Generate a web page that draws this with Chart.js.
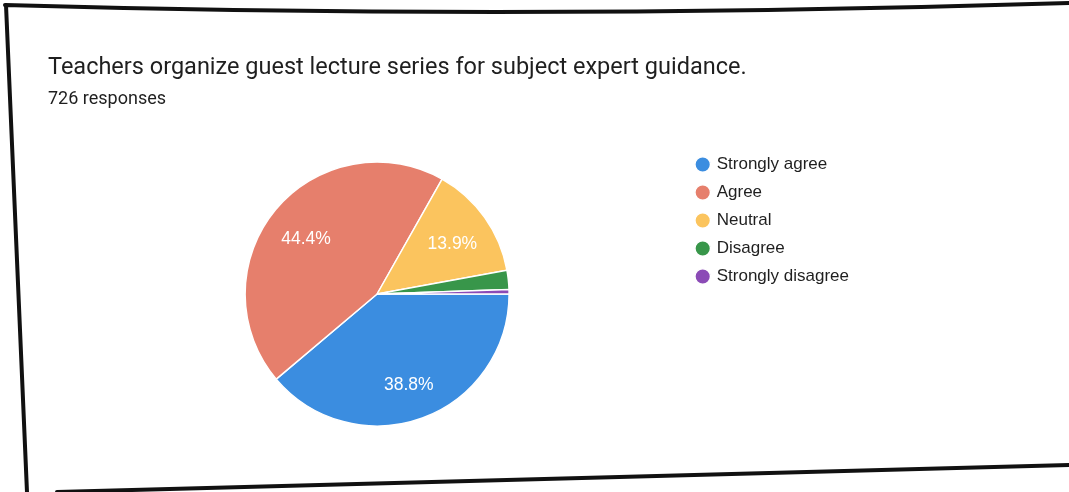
<!DOCTYPE html>
<html>
<head>
<meta charset="utf-8">
<script src="https://cdn.jsdelivr.net/npm/chart.js@4"></script>
<style>
  body { margin: 0; background: #fff; }
  #wrap { position: relative; width: 1069px; height: 492px; overflow: hidden; }
  #wrap canvas { position: absolute; left: 0; top: 0; }
  .question { position: absolute; left: 48px; top: 52px; font: 23.5px Roboto, sans-serif; color: #1f1f1f; white-space: nowrap; }
  .count { position: absolute; left: 48px; top: 87px; font: 18px Roboto, sans-serif; color: #1f1f1f; white-space: nowrap; }
</style>
</head>
<body>
<div id="wrap">
  <canvas id="pie-chart" width="1069" height="492"></canvas>
  <div class="question" id="question"></div>
  <div class="count" id="count"></div>
</div>
<script>
const question = 'Teachers organize guest lecture series for subject expert guidance.';
const answers = ['Strongly agree', 'Agree', 'Neutral', 'Disagree', 'Strongly disagree'];
const counts = [282, 322, 101, 17, 4];
const sliceColors = ['#3b8de0', '#e67f6c', '#fbc45e', '#38964a', '#8b4bb6'];

const total = counts.reduce((a, b) => a + b, 0);
document.getElementById('question').textContent = question;
document.getElementById('count').textContent = total + ' responses';

// black outline of the card
const cardFrame = {
  id: 'cardFrame',
  beforeDraw(chart) {
    const ctx = chart.ctx;
    ctx.save();
    ctx.strokeStyle = '#111';
    ctx.lineWidth = 4;
    ctx.lineCap = 'round';
    ctx.beginPath();
    ctx.moveTo(5, 5);
    ctx.quadraticCurveTo(520, 20, 1069, 3);
    ctx.moveTo(6, 5);
    ctx.lineTo(27, 492);
    ctx.moveTo(57, 492);
    ctx.lineTo(1069, 465);
    ctx.stroke();
    ctx.restore();
  }
};

// percentage text inside the bigger slices
const sliceLabels = {
  id: 'sliceLabels',
  afterDatasetsDraw(chart) {
    const ctx = chart.ctx;
    const meta = chart.getDatasetMeta(0);
    ctx.save();
    ctx.font = '17.5px "Liberation Sans", Arial, sans-serif';
    ctx.fillStyle = '#fff';
    ctx.textAlign = 'center';
    ctx.textBaseline = 'middle';
    meta.data.forEach((arc, i) => {
      const share = counts[i] / total * 100;
      if (share < 5) return;
      const p = arc.getProps(['x', 'y', 'startAngle', 'endAngle', 'outerRadius'], true);
      const mid = (p.startAngle + p.endAngle) / 2;
      const r = p.outerRadius * 0.7;
      ctx.fillText(share.toFixed(1) + '%', p.x + Math.cos(mid) * r, p.y + Math.sin(mid) * r + 4);
    });
    ctx.restore();
  }
};

new Chart(document.getElementById('pie-chart'), {
  type: 'pie',
  data: {
    labels: answers,
    datasets: [{
      data: counts,
      backgroundColor: sliceColors,
      borderColor: '#fff',
      borderWidth: 1.5,
      radius: 132
    }]
  },
  options: {
    responsive: false,
    animation: false,
    rotation: 90,
    layout: { padding: { left: 68, top: 145, bottom: 49, right: 210 } },
    plugins: {
      legend: {
        position: 'right',
        align: 'start',
        labels: {
          usePointStyle: true,
          pointStyle: 'circle',
          boxWidth: 11,
          boxHeight: 11,
          padding: 11,
          color: '#1f1f1f',
          font: { family: '"Liberation Sans", Arial, sans-serif', size: 17 }
        }
      },
      tooltip: { enabled: false }
    }
  },
  plugins: [cardFrame, sliceLabels]
});
</script>
</body>
</html>
